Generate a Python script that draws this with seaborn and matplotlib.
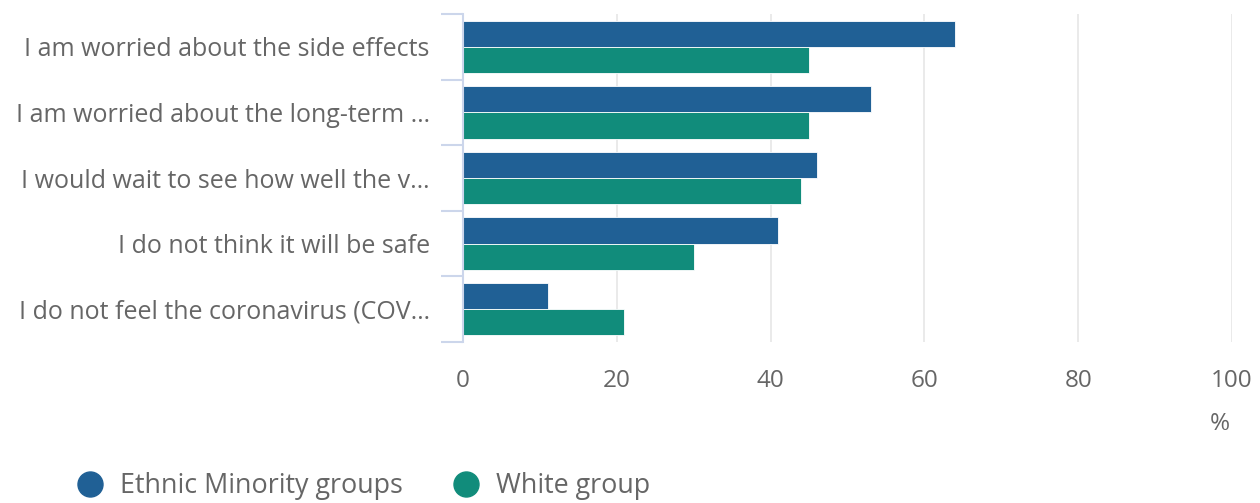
import matplotlib
matplotlib.use("Agg")
import matplotlib.pyplot as plt
from matplotlib.lines import Line2D
from matplotlib.ticker import FixedLocator
import seaborn as sns
import pandas as pd

categories = [
    "I am worried about the side effects",
    "I am worried about the long-term …",
    "I would wait to see how well the v…",
    "I do not think it will be safe",
    "I do not feel the coronavirus (COV…",
]
series_names = ["Ethnic Minority groups", "White group"]
ethnic_minority = [64, 53, 46, 41, 11]
white_group = [45, 45, 44, 30, 21]
x_ticks = [0, 20, 40, 60, 80, 100]
colors = ["#206095", "#118c7b"]

rows = []
for c, v in zip(categories, ethnic_minority):
    rows.append({"reason": c, "group": series_names[0], "value": v})
for c, v in zip(categories, white_group):
    rows.append({"reason": c, "group": series_names[1], "value": v})
df = pd.DataFrame(rows)

sns.set_theme(style="white")
plt.rcParams["font.family"] = ["Open Sans", "DejaVu Sans"]
text_color = "#666666"

fig = plt.figure(figsize=(12.6, 5.03), dpi=100)
ax = fig.add_axes([463 / 1260, 1 - 342 / 503, (1232 - 463) / 1260, (342 - 14) / 503])

sns.barplot(data=df, x="value", y="reason", hue="group", order=categories,
            hue_order=series_names, palette=colors, orient="h", width=0.8,
            edgecolor="#ffffff", linewidth=0.6, saturation=1, ax=ax, legend=False)

ax.set_xlim(0, 100)
ax.set_ylim(4.5, -0.5)
ax.set_xticks(x_ticks)
ax.set_xticklabels([str(t) for t in x_ticks])
ax.set_xlabel("")
ax.set_ylabel("")
ax.grid(axis="x", color="#e6e6e6", linewidth=1.2)
ax.grid(axis="y", visible=False)
ax.set_axisbelow(True)
for s in ["top", "right", "bottom"]:
    ax.spines[s].set_visible(False)
ax.spines["left"].set_color("#ccd6eb")
ax.spines["left"].set_linewidth(1.5)

ax.tick_params(axis="x", length=0, pad=19.5, labelsize=17.5, labelcolor=text_color)
ax.tick_params(axis="y", which="major", length=0, pad=24, labelsize=18, labelcolor=text_color)
ax.yaxis.set_minor_locator(FixedLocator([-0.5, 0.5, 1.5, 2.5, 3.5, 4.5]))
ax.tick_params(axis="y", which="minor", length=16, width=1.5, color="#ccd6eb", left=True)

fig.text(1220 / 1260, 1 - 424 / 503, "%", ha="center", va="center",
         fontsize=17.5, color=text_color)

handles = [Line2D([0], [0], marker="o", linestyle="", markersize=18,
                  markerfacecolor=c, markeredgecolor=c) for c in colors]
leg = fig.legend(handles, series_names, loc="center left",
                 bbox_to_anchor=(74 / 1260, 1 - 486 / 503), ncol=2, frameon=False,
                 fontsize=19.4, handlelength=1.2, handletextpad=0.52,
                 columnspacing=1.74, borderaxespad=0, borderpad=0)
for t in leg.get_texts():
    t.set_color(text_color)

fig.savefig("out.png", dpi=100, facecolor="white")
